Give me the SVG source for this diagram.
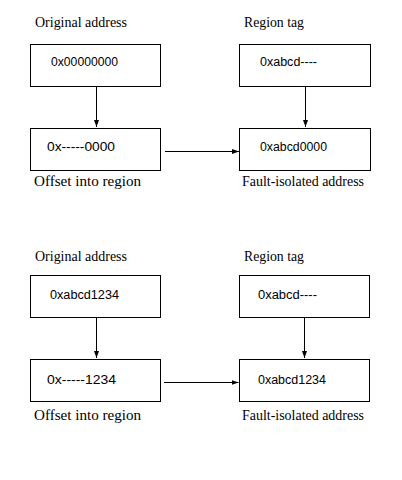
<svg xmlns="http://www.w3.org/2000/svg" width="402" height="480" viewBox="0 0 402 480">
<style>
.box{fill:#fff;stroke:#000;stroke-width:1}
.lbl{font-family:"Liberation Serif",serif;font-size:14px;fill:#000}
.val{font-family:"Liberation Sans",sans-serif;font-size:12px;fill:#000}
.con{stroke:#000;stroke-width:1;fill:none;marker-end:url(#ah)}
</style>
<defs>
<marker id="ah" markerWidth="8" markerHeight="6" refX="7" refY="3" orient="auto" markerUnits="userSpaceOnUse">
<path d="M0,0.5 L7,3 L0,5.5 Z" fill="#000"/>
</marker>
</defs>
<rect width="402" height="480" fill="#fff"/>
<g id="connectors">
<line class="con" x1="96.5" y1="86.5" x2="96.5" y2="127"/>
<line class="con" x1="305.5" y1="86.5" x2="305.5" y2="127"/>
<line class="con" x1="165" y1="151.5" x2="239" y2="151.5"/>
<line class="con" x1="96.5" y1="317.5" x2="96.5" y2="358"/>
<line class="con" x1="304.5" y1="317.5" x2="304.5" y2="358"/>
<line class="con" x1="164" y1="382.5" x2="238.5" y2="382.5"/>
</g>
<g id="top-original">
<text class="lbl" x="35" y="27" textLength="92" lengthAdjust="spacingAndGlyphs">Original address</text>
<rect class="box" x="30.5" y="44.5" width="130" height="42"/>
<text class="val" x="51" y="65.5" textLength="67" lengthAdjust="spacingAndGlyphs">0x00000000</text>
</g>
<g id="top-tag">
<text class="lbl" x="244" y="27" textLength="60" lengthAdjust="spacingAndGlyphs">Region tag</text>
<rect class="box" x="239.5" y="44.5" width="131" height="42"/>
<text class="val" x="260" y="65.5" textLength="57" lengthAdjust="spacingAndGlyphs">0xabcd----</text>
</g>
<g id="top-offset">
<rect class="box" x="30.5" y="128.5" width="130" height="42"/>
<text class="val" x="47" y="150.5" textLength="68" lengthAdjust="spacingAndGlyphs">0x-----0000</text>
<text class="lbl" x="34" y="186" textLength="107" lengthAdjust="spacingAndGlyphs">Offset into region</text>
</g>
<g id="top-fault">
<rect class="box" x="239.5" y="128.5" width="131" height="42"/>
<text class="val" x="260" y="150.5" textLength="67" lengthAdjust="spacingAndGlyphs">0xabcd0000</text>
<text class="lbl" x="242" y="186" textLength="122" lengthAdjust="spacingAndGlyphs">Fault-isolated address</text>
</g>
<g id="bottom-original">
<text class="lbl" x="35" y="261" textLength="92" lengthAdjust="spacingAndGlyphs">Original address</text>
<rect class="box" x="30.5" y="275.5" width="130" height="42"/>
<text class="val" x="50" y="299" textLength="69" lengthAdjust="spacingAndGlyphs">0xabcd1234</text>
</g>
<g id="bottom-tag">
<text class="lbl" x="244" y="261" textLength="60" lengthAdjust="spacingAndGlyphs">Region tag</text>
<rect class="box" x="239.5" y="275.5" width="130" height="42"/>
<text class="val" x="258" y="299" textLength="59" lengthAdjust="spacingAndGlyphs">0xabcd----</text>
</g>
<g id="bottom-offset">
<rect class="box" x="30.5" y="359.5" width="130" height="42"/>
<text class="val" x="47" y="383.5" textLength="69" lengthAdjust="spacingAndGlyphs">0x-----1234</text>
<text class="lbl" x="34" y="420" textLength="107" lengthAdjust="spacingAndGlyphs">Offset into region</text>
</g>
<g id="bottom-fault">
<rect class="box" x="239.5" y="359.5" width="130" height="42"/>
<text class="val" x="258" y="383.5" textLength="68" lengthAdjust="spacingAndGlyphs">0xabcd1234</text>
<text class="lbl" x="242" y="420" textLength="122" lengthAdjust="spacingAndGlyphs">Fault-isolated address</text>
</g>
</svg>
